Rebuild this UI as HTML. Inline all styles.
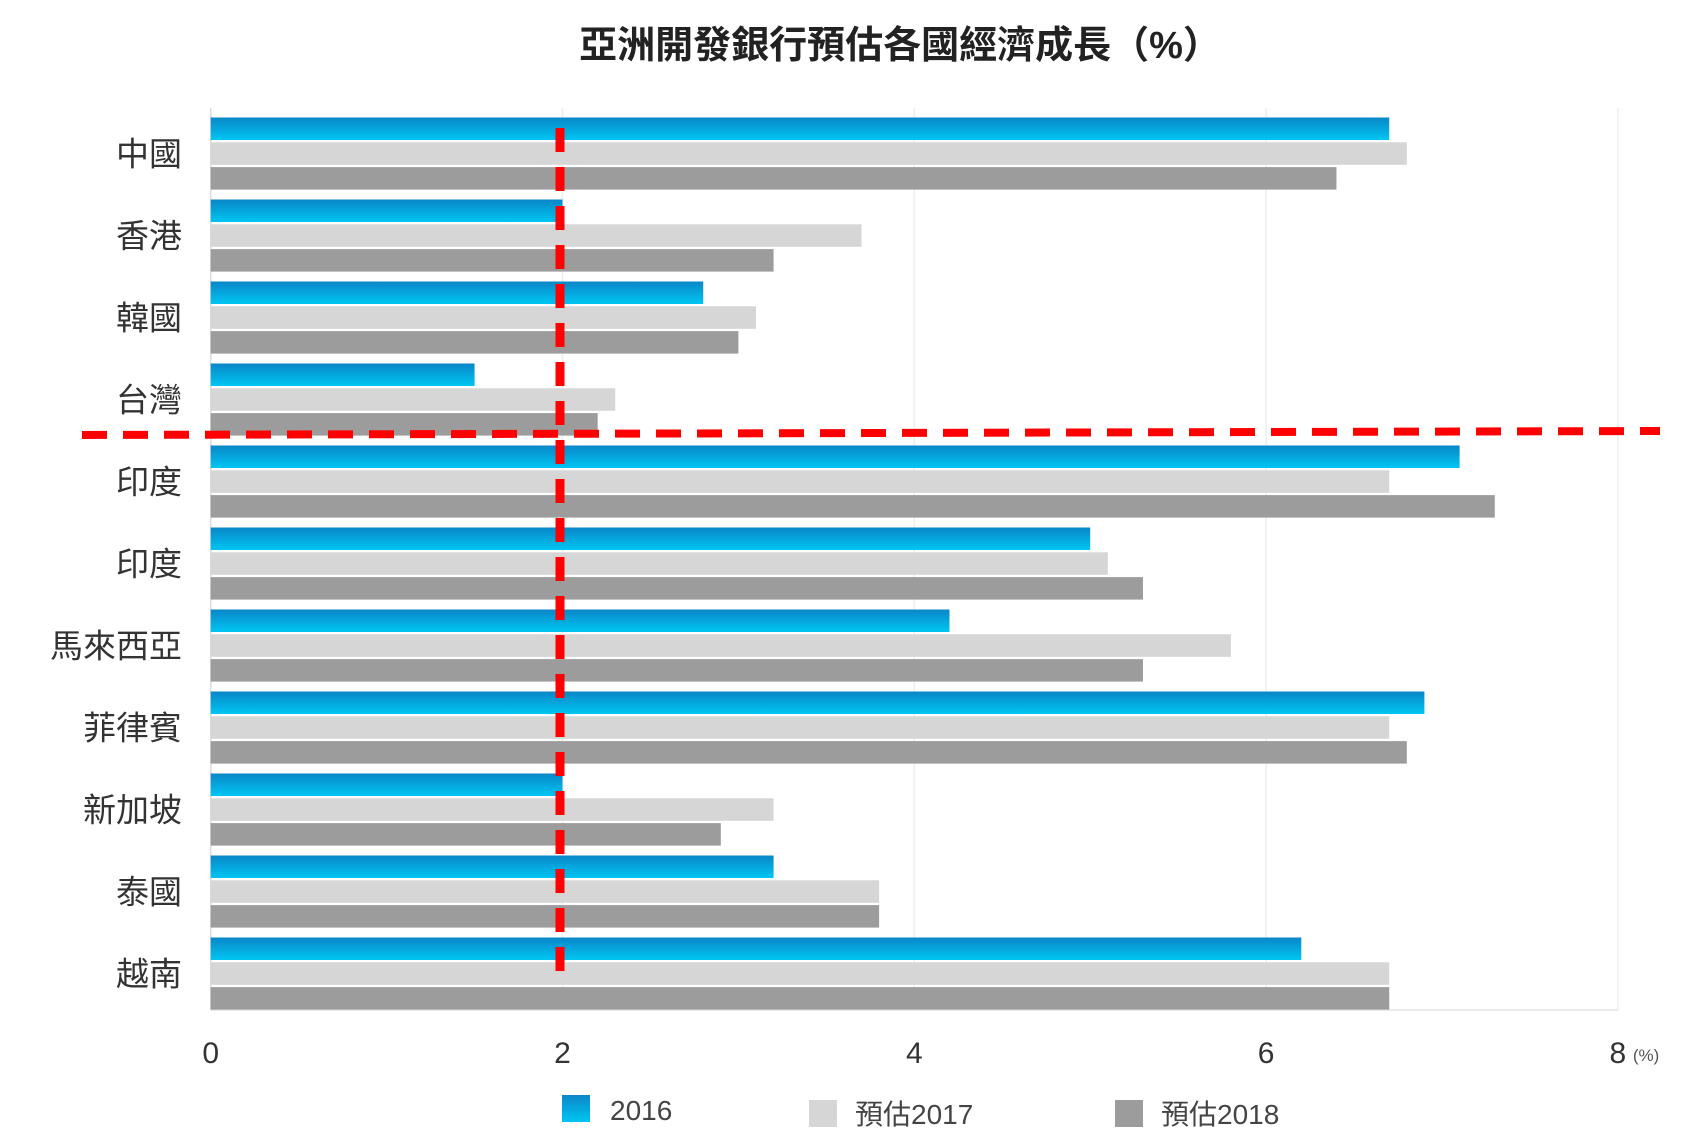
<!DOCTYPE html>
<html><head><meta charset="utf-8"><style>
html,body{margin:0;padding:0;background:#fff}
svg{display:block}
text{font-family:"Liberation Sans","Noto Sans CJK TC",sans-serif}
</style></head><body>
<svg id="chart" width="1701" height="1134" viewBox="0 0 1701 1134" xmlns="http://www.w3.org/2000/svg">
<defs>
<linearGradient id="blueGrad" x1="0" y1="0" x2="0" y2="1">
<stop offset="0" stop-color="#0a86c8"/><stop offset="1" stop-color="#00c6f2"/>
</linearGradient>
</defs>
<text x="900" y="58" text-anchor="middle" font-size="38" font-weight="bold" fill="#222">亞洲開發銀行預估各國經濟成長（%）</text>
<g id="grid"></g>
<g id="bars"></g>
<g id="labels"></g>
<g id="ticks"></g>
<line x1="560" y1="128" x2="560" y2="982" stroke="#ff0000" stroke-width="9" stroke-dasharray="24 15"/>
<line x1="82" y1="435" x2="1660" y2="431" stroke="#ff0000" stroke-width="8" stroke-dasharray="25 16"/>
<g>
<rect x="562" y="1095" width="28" height="27" fill="url(#blueGrad)"/>
<text x="610" y="1120" font-size="28" fill="#444">2016</text>
<rect x="809" y="1100" width="28" height="27" fill="#d6d6d6"/>
<text x="855" y="1124" font-size="28" fill="#444">預估2017</text>
<rect x="1115" y="1100" width="28" height="27" fill="#9c9c9c"/>
<text x="1161" y="1124" font-size="28" fill="#444">預估2018</text>
</g>
</svg>
<script>
const categories = ["中國","香港","韓國","台灣","印度","印度","馬來西亞","菲律賓","新加坡","泰國","越南"];
const values2016 = [6.7,2.0,2.8,1.5,7.1,5.0,4.2,6.9,2.0,3.2,6.2];
const values2017 = [6.8,3.7,3.1,2.3,6.7,5.1,5.8,6.7,3.2,3.8,6.7];
const values2018 = [6.4,3.2,3.0,2.2,7.3,5.3,5.3,6.8,2.9,3.8,6.7];
const tickValues = [0,2,4,6,8];
const NS = "http://www.w3.org/2000/svg";
const x0 = 210.7, xScale = 175.9;
function xPos(v){ return x0 + v * xScale; }
function groupTop(i){ return 117.5 + i * 82; }
const barH = 22.5, barPitch = 24.8;
const fills = ["url(#blueGrad)", "#d6d6d6", "#9c9c9c"];
const series = [values2016, values2017, values2018];
const seriesNames = ["2016","2017","2018"];
const grid = document.getElementById("grid");
const bars = document.getElementById("bars");
const labels = document.getElementById("labels");
const ticks = document.getElementById("ticks");
tickValues.forEach(t => {
  const l = document.createElementNS(NS, "line");
  
  
  l.setAttribute("x1", xPos(t)); l.setAttribute("x2", xPos(t));
  l.setAttribute("y1", 108); l.setAttribute("y2", 1010);
  l.setAttribute("stroke", t === 0 ? "#dcdcdc" : "#eeeeee"); l.setAttribute("stroke-width", 1.5);
  grid.appendChild(l);
  const tx = document.createElementNS(NS, "text");
  
  
  tx.setAttribute("x", xPos(t)); tx.setAttribute("y", 1063);
  tx.setAttribute("text-anchor", "middle"); tx.setAttribute("font-size", "30"); tx.setAttribute("fill", "#333");
  tx.textContent = t;
  ticks.appendChild(tx);
});
const unit = document.createElementNS(NS, "text");


unit.setAttribute("x", xPos(8) + 15); unit.setAttribute("y", 1061);
unit.setAttribute("font-size", "17"); unit.setAttribute("fill", "#555");
unit.textContent = "(%)";
ticks.appendChild(unit);
const base = document.createElementNS(NS, "line");


base.setAttribute("x1", x0); base.setAttribute("x2", xPos(8));
base.setAttribute("y1", 1010); base.setAttribute("y2", 1010);
base.setAttribute("stroke", "#e4e4e4"); base.setAttribute("stroke-width", 1.5);
grid.appendChild(base);
categories.forEach((c, i) => {
  series.forEach((s, k) => {
    const r = document.createElementNS(NS, "rect");
    
    
    r.setAttribute("x", x0); r.setAttribute("y", groupTop(i) + k * barPitch);
    r.setAttribute("width", xPos(s[i]) - x0); r.setAttribute("height", barH);
    r.setAttribute("fill", fills[k]);
    bars.appendChild(r);
  });
  const t = document.createElementNS(NS, "text");
  
  
  t.setAttribute("x", 182); t.setAttribute("y", groupTop(i) + 48);
  t.setAttribute("text-anchor", "end"); t.setAttribute("font-size", "33"); t.setAttribute("fill", "#333");
  t.textContent = c;
  labels.appendChild(t);
});
</script>
</body></html>
